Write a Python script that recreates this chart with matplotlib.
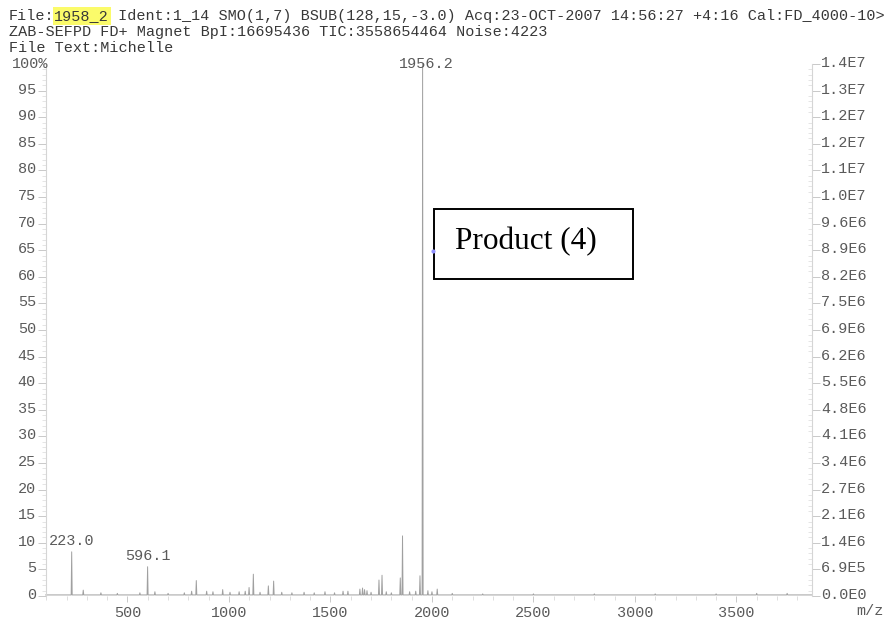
import matplotlib
matplotlib.use("Agg")
import matplotlib.pyplot as plt
from matplotlib.ticker import MultipleLocator, FixedLocator
from matplotlib.patches import Rectangle
from matplotlib.transforms import ScaledTranslation

# ---- data ----
peak_mz = [225, 282, 369, 450, 561, 599, 635, 700, 780, 816, 839, 890, 921, 969, 1005,
           1050, 1080, 1099, 1120, 1153, 1194, 1220, 1260, 1310, 1370, 1420, 1473, 1520,
           1562, 1586, 1645, 1658, 1668, 1680, 1700, 1739, 1754, 1775, 1800, 1844, 1855,
           1890, 1920, 1941, 1954, 1980, 2000, 2026, 2100, 2250, 2500, 2800, 3100, 3400,
           3600, 3750]
peak_int = [8.3, 1.1, 0.6, 0.5, 0.6, 5.5, 0.8, 0.5, 0.6, 0.9, 2.9, 0.9, 0.8, 1.2, 0.7,
            0.8, 0.9, 1.6, 4.1, 0.7, 1.9, 2.8, 0.7, 0.6, 0.7, 0.6, 0.8, 0.6,
            0.9, 0.9, 1.3, 1.5, 1.2, 1.0, 0.7, 3.0, 3.9, 0.8, 0.6, 3.4, 11.3,
            0.8, 0.9, 3.8, 100.0, 1.0, 0.8, 1.3, 0.5, 0.4, 0.4, 0.4, 0.4, 0.4,
            0.5, 0.5]
base_level = 0.2

labelled_mz = [225, 599, 1954]
labelled_int = [8.3, 5.5, 100.0]
labelled_txt = ["223.0", "596.1", "1956.2"]

left_ticks = list(range(0, 100, 5))
right_ticklabels = ["0.0E0", "6.9E5", "1.4E6", "2.1E6", "2.7E6", "3.4E6", "4.1E6",
                    "4.8E6", "5.5E6", "6.2E6", "6.9E6", "7.5E6", "8.2E6", "8.9E6",
                    "9.6E6", "1.0E7", "1.1E7", "1.2E7", "1.2E7", "1.3E7", "1.4E7"]
x_ticks = [500, 1000, 1500, 2000, 2500, 3000, 3500]

header = ["ZAB-SEFPD FD+ Magnet BpI:16695436 TIC:3558654464 Noise:4223",
          "File Text:Michelle"]
header1_a = "File:"
header1_b = "1958_2"
header1_c = " Ident:1_14 SMO(1,7) BSUB(128,15,-3.0) Acq:23-OCT-2007 14:56:27 +4:16 Cal:FD_4000-10>"

# ---- figure ----
W, H = 885, 619
fig = plt.figure(figsize=(W / 100, H / 100), dpi=100)
mono = "Liberation Mono"
fs = 10.9
tcol = "#5a5a5a"
lift = ScaledTranslation(0, 2.5 / 100, fig.dpi_scale_trans)

def fx(px):
    return px / W

def fy(py):
    return 1 - py / H

ax = fig.add_axes([fx(45.7), fy(596), fx(811.5) - fx(45.7), fy(64) - fy(596)])
ax.set_xlim(97, 3870)
ax.set_ylim(0, 100)

# build stick profile from the peak list
xs, ys = [ax.get_xlim()[0]], [base_level]
for m, h in sorted(zip(peak_mz, peak_int)):
    xs += [m - 2.5, m, m + 2.5]
    ys += [base_level, h, base_level]
xs.append(ax.get_xlim()[1])
ys.append(base_level)
ax.plot(xs, ys, color="#a0a0a0", lw=0.7, clip_on=False)

for s in ["top", "bottom", "right"]:
    ax.spines[s].set_visible(False)
ax.spines["left"].set_color("#d5d5d5")
ax.spines["left"].set_linewidth(0.8)

# left axis
ax.yaxis.set_major_locator(FixedLocator(left_ticks))
ax.set_yticklabels([str(t) for t in left_ticks])
ax.yaxis.set_minor_locator(MultipleLocator(1))
ax.tick_params(axis="y", which="major", length=6, width=0.6, color="#c0c0c0",
               labelsize=fs, labelcolor=tcol, pad=1)
ax.tick_params(axis="y", which="minor", length=3, width=0.5, color="#dadada")
for lab in ax.get_yticklabels():
    lab.set_fontfamily(mono)
    lab.set_transform(lab.get_transform() + lift)

# x axis
ax.xaxis.set_major_locator(FixedLocator(x_ticks))
ax.xaxis.set_minor_locator(MultipleLocator(100))
ax.tick_params(axis="x", which="major", length=4, width=0.6, color="#c0c0c0",
               labelsize=fs, labelcolor=tcol, pad=3)
ax.tick_params(axis="x", which="minor", length=3, width=0.5, color="#d0d0d0")
for lab in ax.get_xticklabels():
    lab.set_fontfamily(mono)

# right axis
ax2 = ax.twinx()
ax2.set_ylim(0, 100)
for s in ["top", "bottom", "left"]:
    ax2.spines[s].set_visible(False)
ax2.spines["right"].set_color("#d5d5d5")
ax2.spines["right"].set_linewidth(0.8)
ax2.yaxis.set_major_locator(FixedLocator(list(range(0, 101, 5))))
ax2.set_yticklabels(right_ticklabels)
ax2.yaxis.set_minor_locator(MultipleLocator(1))
ax2.tick_params(axis="y", which="major", direction="out", length=6, width=0.6,
                color="#c0c0c0", labelsize=fs, labelcolor=tcol, pad=1)
ax2.tick_params(axis="y", which="minor", direction="in", length=3, width=0.5,
                color="#dadada")
for lab in ax2.get_yticklabels():
    lab.set_fontfamily(mono)
    lab.set_transform(lab.get_transform() + lift)

# peak labels
for m, h, t in zip(labelled_mz, labelled_int, labelled_txt):
    if h >= 99:
        fig.text(fx(426), fy(64), t, ha="center", va="center", family=mono,
                 fontsize=fs, color=tcol)
    else:
        ax.annotate(t, (m, h), xytext=(0, 3), textcoords="offset points",
                    ha="center", va="bottom", family=mono, fontsize=fs, color=tcol)

fig.text(fx(12), fy(64), "100%", ha="left", va="center", family=mono,
         fontsize=fs, color=tcol)
fig.text(fx(884), fy(611), "m/z", ha="right", va="center", family=mono,
         fontsize=fs, color=tcol)

# header
hcol = "#383838"
cw = fs * 0.6 * 100 / 72
x0 = 9
fig.text(fx(x0), fy(16), header1_a, ha="left", va="center", family=mono,
         fontsize=fs, color=hcol)
fig.text(fx(x0 + 5 * cw), fy(16), header1_b, ha="left", va="center", family=mono,
         fontsize=fs, color=hcol,
         bbox=dict(boxstyle="square,pad=0.12", fc="#fbfb6a", ec="none"))
fig.text(fx(x0 + 11 * cw), fy(16), header1_c, ha="left", va="center", family=mono,
         fontsize=fs, color=hcol)
fig.text(fx(x0), fy(32), header[0], ha="left", va="center", family=mono,
         fontsize=fs, color=hcol)
fig.text(fx(x0), fy(48), header[1], ha="left", va="center", family=mono,
         fontsize=fs, color=hcol)

# Product box
fig.patches.append(Rectangle((fx(433.5), fy(279)), fx(633) - fx(433.5), fy(209) - fy(279),
                             transform=fig.transFigure, fill=False, ec="black", lw=1.4))
fig.text(fx(455), fy(242), "Product (4)", ha="left", va="center",
         family="Liberation Serif", fontsize=22.5, color="black")
fig.add_artist(plt.Line2D([fx(433)], [fy(251)], marker="o", ms=3, color="#9090ff",
                          mec="none", transform=fig.transFigure))

fig.savefig("out.png", dpi=100)
